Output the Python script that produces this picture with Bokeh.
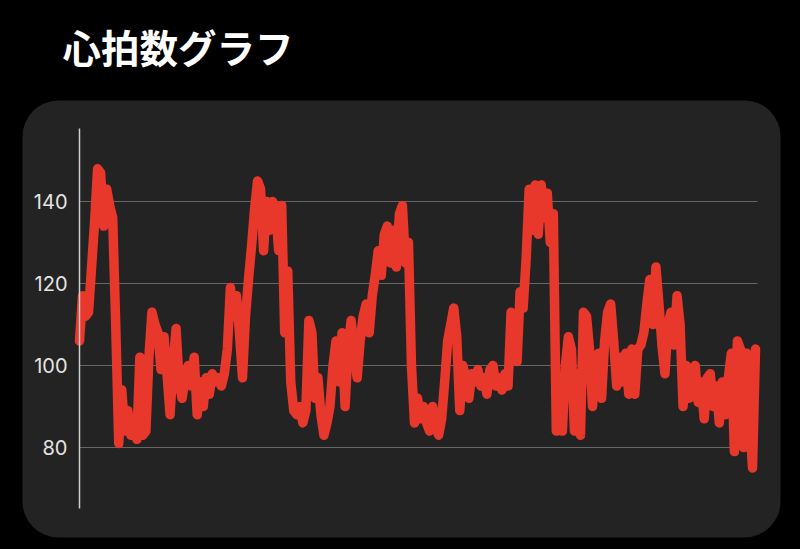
import math
from bokeh.plotting import figure
from bokeh.models import Range1d, FixedTicker
from bokeh.core.properties import value
from bokeh.embed import file_html
from bokeh.resources import INLINE

# ---------------- data ----------------
title_text = "心拍数グラフ"
y_ticks = [80, 100, 120, 140]
bpm = [
    106, 117, 112, 113, 124, 135, 148, 147, 134, 143,
    139, 136, 110, 81, 94, 84, 89, 83, 86, 82,
    102, 83, 84, 102, 113, 110, 108, 99, 107, 98,
    88, 100, 109, 96, 92, 97, 100, 95, 102, 88,
    96, 90, 97, 93, 98, 96, 97, 95, 98, 104,
    119, 112, 117, 108, 97, 112, 121, 129, 138, 145,
    143, 128, 140, 133, 140, 138, 128, 139, 108, 123,
    96, 89, 88, 90, 86, 89, 111, 108, 92, 97,
    88, 83, 86, 90, 100, 106, 96, 108, 90, 104,
    111, 104, 97, 106, 112, 115, 108, 117, 122, 128,
    122, 132, 134, 125, 133, 124, 137, 139, 125, 130,
    100, 86, 92, 87, 90, 86, 84, 90, 85, 83,
    87, 96, 106, 110, 114, 107, 89, 100, 97, 92,
    98, 96, 99, 95, 97, 93, 99, 100, 95, 97,
    94, 98, 95, 113, 112, 101, 118, 114, 126, 143,
    133, 144, 132, 144, 136, 142, 130, 137, 84, 96,
    84, 100, 107, 104, 84, 98, 83, 113, 112, 104,
    90, 100, 103, 92, 106, 113, 115, 106, 95, 102,
    96, 103, 93, 104, 93, 104, 105, 108, 115, 121,
    110, 124, 115, 105, 98, 110, 113, 105, 117, 110,
    90, 100, 92, 99, 100, 91, 96, 87, 97, 98,
    90, 95, 86, 96, 88, 97, 103, 79, 106, 104,
    80, 103, 88, 75, 104,
]
sample = list(range(len(bpm)))

# ---------------- layout (page pixels) ----------------
W, H = 800, 549
MARGIN = 0
X_FIRST, X_LAST = 79, 755          # first / last sample position
Y_140, Y_80 = 201, 447             # pixel rows of the 140 / 80 gridlines
px_per_sample = (X_LAST - X_FIRST) / (len(bpm) - 1)
px_per_bpm = (Y_80 - Y_140) / (140 - 80)


def xd(px):
    return (px - X_FIRST) / px_per_sample


def yd(py):
    return 140 - (py - Y_140) / px_per_bpm


p = figure(
    width=W, height=H,
    x_range=Range1d(xd(MARGIN), xd(MARGIN + W)),
    y_range=Range1d(yd(MARGIN + H), yd(MARGIN)),
    output_backend="svg", toolbar_location=None, title=None,
    min_border=0, background_fill_color="#000000",
    border_fill_color="#000000", outline_line_color=None,
)

# rounded dark panel
PL, PR, PT, PB, RAD = 22, 780, 100, 537, 36
panel_color = "#232323"
try:
    p.quad(left=[xd(PL)], right=[xd(PR)], top=[yd(PT)], bottom=[yd(PB)],
           fill_color=panel_color, line_color=None, border_radius=RAD,
           level="image")
except Exception:
    xs, ys = [], []
    corners = [(PR - RAD, PT + RAD, -90, 0), (PR - RAD, PB - RAD, 0, 90),
               (PL + RAD, PB - RAD, 90, 180), (PL + RAD, PT + RAD, 180, 270)]
    for cx, cy, a0, a1 in corners:
        for k in range(13):
            a = math.radians(a0 + (a1 - a0) * k / 12)
            xs.append(xd(cx + RAD * math.cos(a)))
            ys.append(yd(cy + RAD * math.sin(a)))
    p.patch(xs, ys, fill_color=panel_color, line_color=None, level="image")

# axes
p.xaxis.visible = False
p.xgrid.visible = False
ax = p.yaxis[0]
ax.fixed_location = 0
ax.bounds = (yd(508), yd(128))
ax.ticker = FixedTicker(ticks=y_ticks)
ax.axis_line_color = "#cfcfcf"
ax.axis_line_width = 1.5
ax.major_tick_line_color = None
ax.minor_tick_line_color = None
ax.major_tick_out = 0
ax.major_tick_in = 0
ax.minor_tick_out = 0
ax.major_label_standoff = 12
ax.major_label_text_font = "Inter"
ax.major_label_text_font_size = "20px"
ax.major_label_text_color = "#e4e4e4"

grid = p.ygrid[0]
grid.grid_line_color = "#666666"
grid.grid_line_width = 1
try:
    grid.cross_bounds = (0, xd(757))
except Exception:
    grid.visible = False
    p.segment(x0=[0] * len(y_ticks), x1=[xd(757)] * len(y_ticks),
              y0=y_ticks, y1=y_ticks, line_color="#666666", line_width=1,
              level="underlay")

# heart-rate line
p.line(sample, bpm, line_color="#e8382b", line_width=9.5,
       line_join="round", line_cap="round")

# title
p.text(x=[xd(62)], y=[yd(45)], text=[title_text],
       text_font=value("Noto Sans CJK JP"), text_font_size="38.5px",
       text_font_style="bold", text_color="#ffffff",
       text_baseline="middle", text_align="left")

html = file_html(p, INLINE, title=title_text)
html = html.replace("</head>", "<style>html,body{background:#000000;}</style></head>", 1)
open("out.html", "w").write(html)
